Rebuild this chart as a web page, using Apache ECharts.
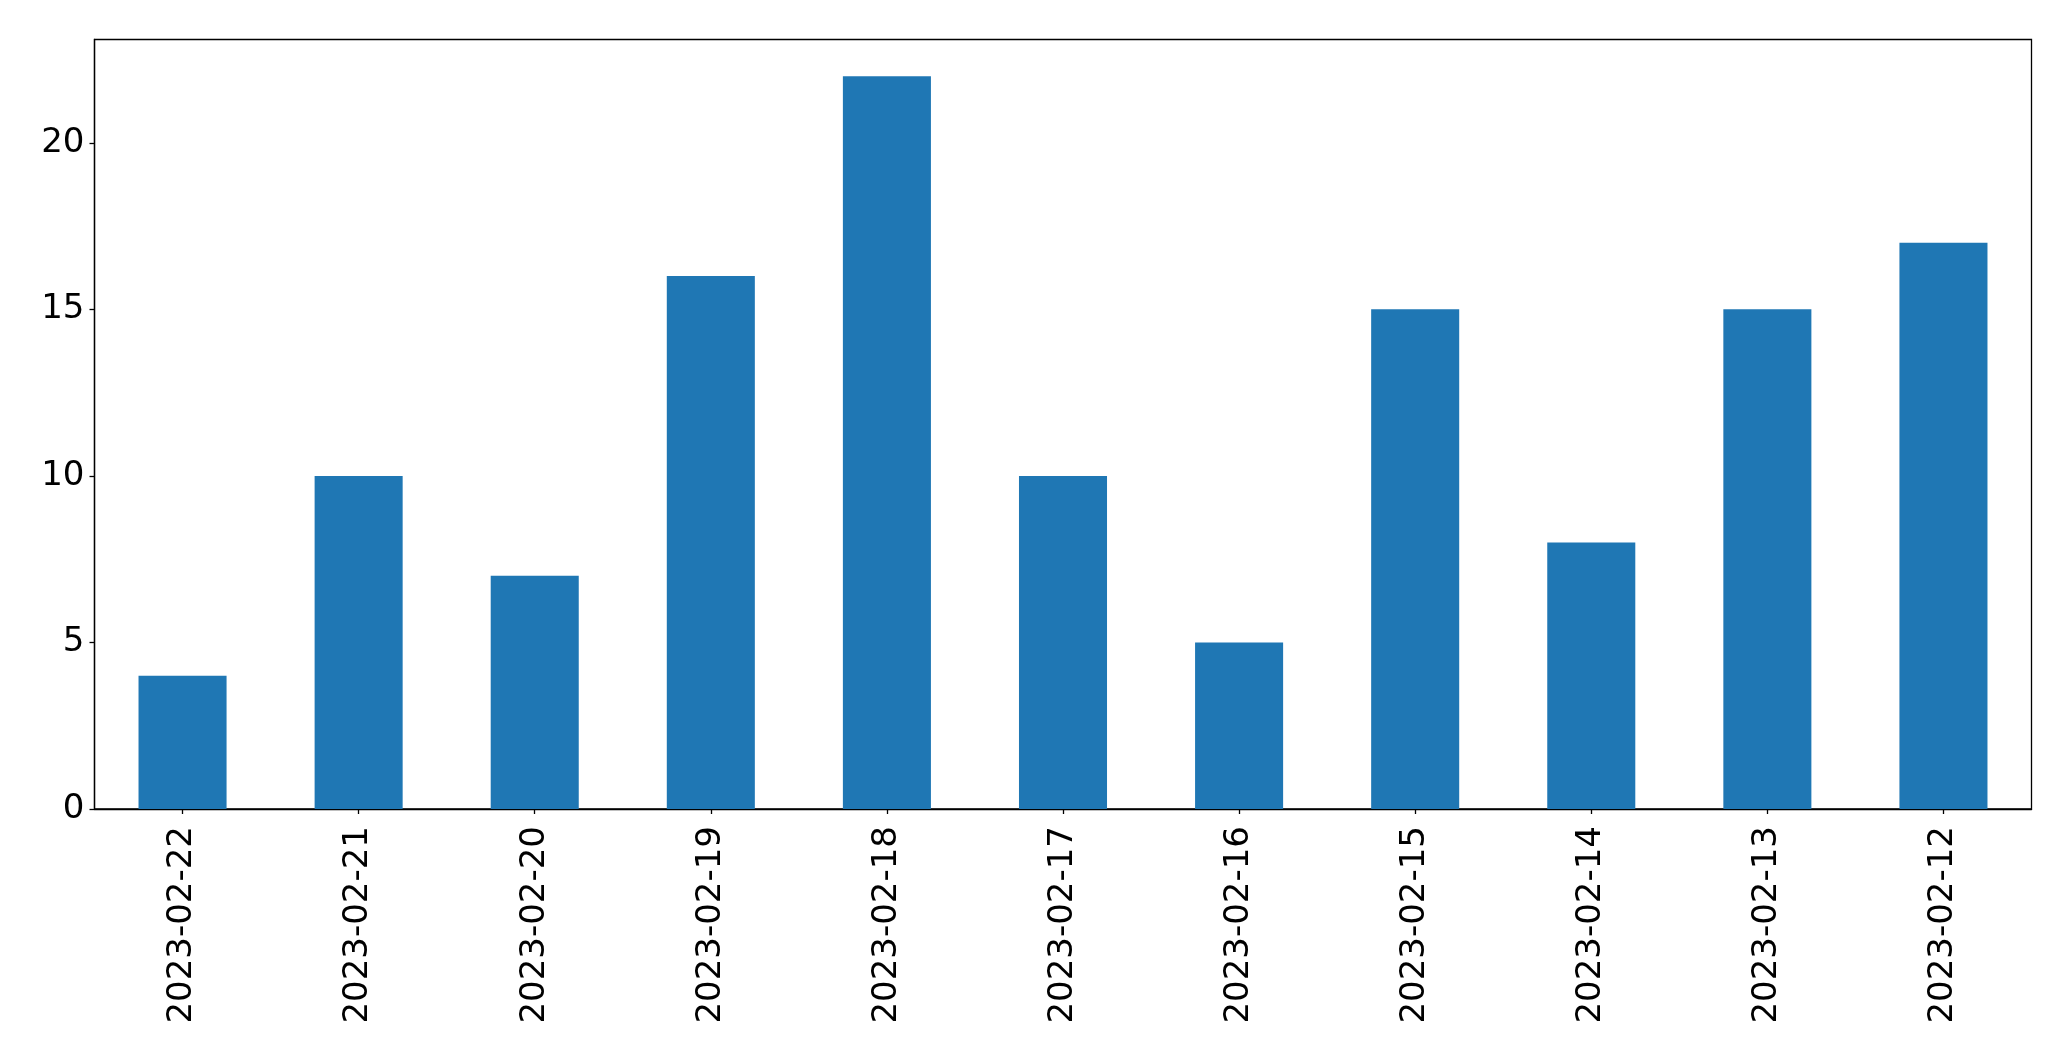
<!DOCTYPE html>
<html><head><meta charset="utf-8">
<script src="https://cdn.jsdelivr.net/npm/echarts@6/dist/echarts.min.js"></script>
<style>html,body{margin:0;padding:0;background:#fff}#c{width:2071px;height:1061px}</style>
</head><body><div id="c"></div>
<script>
const categories = ["2023-02-22","2023-02-21","2023-02-20","2023-02-19","2023-02-18","2023-02-17","2023-02-16","2023-02-15","2023-02-14","2023-02-13","2023-02-12"];
const values = [4,10,7,16,22,10,5,15,8,15,17];
const yTicks = [0,5,10,15,20];

const chart = echarts.init(document.getElementById('c'), null, {renderer:'canvas'});
const font = 'DejaVu Sans';
chart.setOption({
  animation:false,
  grid:{left:94.5,right:39.5,top:39.5,bottom:252,show:true,borderColor:'#000',borderWidth:1.3,backgroundColor:'transparent',containLabel:false},
  xAxis:{type:'category',data:categories,boundaryGap:true,
    axisLine:{show:true,lineStyle:{color:'#000',width:1.3}},
    axisTick:{show:true,alignWithLabel:true,length:5,lineStyle:{color:'#000',width:1.3}},
    axisLabel:{rotate:90,fontFamily:font,fontSize:34,color:'#000',margin:17,interval:0},
    splitLine:{show:false}},
  yAxis:{type:'value',min:0,max:23.1,
    axisLine:{show:true,lineStyle:{color:'#000',width:1.3}},
    axisTick:{show:true,length:5,lineStyle:{color:'#000',width:1.3},
      customValues:yTicks},
    axisLabel:{fontFamily:font,fontSize:34,color:'#000',margin:10,
      customValues:yTicks},
    splitLine:{show:false}},
  series:[{type:'bar',data:values,barWidth:'50%',itemStyle:{color:'#1f77b4'}}]
});
</script></body></html>
